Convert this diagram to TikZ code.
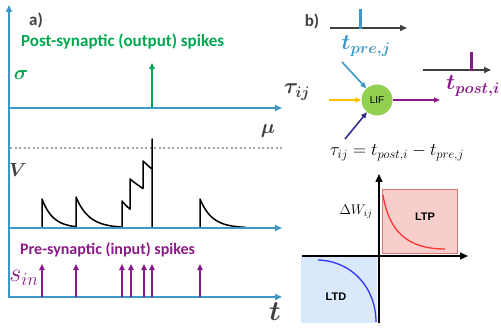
\documentclass[tikz,border=0pt]{standalone}
\usepackage{fix-cm}
\usepackage{amsmath,bm}
\usepackage{fontspec}
\setmainfont{Carlito}
\newfontfamily\arialf{Liberation Sans}
\usetikzlibrary{arrows.meta}
\definecolor{axblue}{RGB}{62,152,199}
\definecolor{sgreen}{RGB}{0,166,80}
\definecolor{spurple}{RGB}{139,26,137}
\definecolor{dgray}{RGB}{64,64,64}
\definecolor{sorange}{RGB}{255,192,0}
\definecolor{snavy}{RGB}{47,48,140}
\definecolor{lifgreen}{RGB}{146,208,80}
\definecolor{ltpfill}{RGB}{248,206,204}
\definecolor{ltpstroke}{RGB}{214,120,116}
\definecolor{ltdfill}{RGB}{218,232,252}
\definecolor{ltpcurve}{RGB}{255,51,51}
\definecolor{ltdcurve}{RGB}{51,51,255}
\tikzset{
  axl/.style={draw=axblue, line width=2pt, -{Triangle[length=7pt,width=6pt]}},
  spk/.style={line width=2pt, -{Triangle[length=6pt,width=5.5pt]}},
  gax/.style={draw=dgray, line width=1.5pt, -{Triangle[length=7pt,width=6pt]}},
  bax/.style={draw=black, line width=1.5pt, -{Triangle[length=8pt,width=7pt]}},
  inarr/.style={line width=1.6pt, -{Triangle[length=6pt,width=5pt]}},
  vcurve/.style={draw=black, line width=1.5pt, line join=round},
  lbl/.style={inner sep=0pt},
}
\newcommand{\fs}[1]{\fontsize{#1}{#1}\selectfont}
\begin{document}
\begin{tikzpicture}[x=1pt,y=-1pt]
\useasboundingbox (0,0) rectangle (501,334);
% ---------------- panel a ----------------
\coordinate (ytop) at (9,5);
\coordinate (ybot) at (9,298);
\coordinate (s0) at (9,108);  \coordinate (s1) at (282,108);
\coordinate (d0) at (10,148); \coordinate (d1) at (282,148);
\coordinate (v0) at (9,228);  \coordinate (v1) at (282,228);
\coordinate (t0) at (9,297);  \coordinate (t1) at (282,297);
\draw[dotted, draw=gray!70, line width=2pt, dash pattern=on 2pt off 2.5pt] (d0) -- (d1);
% membrane potential
\draw[vcurve] (42,228) -- (42,199)
  -- plot[domain=42:76, samples=30, smooth] (\x, {228-29*exp(-(\x-42)/11)})
  -- (76,197)
  -- plot[domain=76:121, samples=30, smooth] (\x, {228-31*exp(-(\x-76)/13)});
\draw[vcurve] (122,228) -- (122,201)
  -- plot[domain=122:130, samples=10, smooth] (\x, {228-27*exp(-(\x-122)/22)})
  -- (130,179)
  -- plot[domain=130:143, samples=12, smooth] (\x, {228-49*exp(-(\x-130)/60)})
  -- (143,161)
  -- plot[domain=143:152, samples=10, smooth] (\x, {228-67*exp(-(\x-143)/70)})
  -- (152,139) -- (152,228) -- (200,228) -- (200,199)
  -- plot[domain=200:246, samples=30, smooth] (\x, {228-29*exp(-(\x-200)/12)});
\draw[axl] (ybot) -- (ytop);
\draw[axl] (s0) -- (s1);
\draw[axl] (v0) -- (v1);
\draw[axl] (t0) -- (t1);
% output spike
\coordinate (g0) at (152,108); \coordinate (g1) at (152,63);
\draw[spk, draw=sgreen, fill=sgreen] (g0) -- (g1);
% input spikes
\foreach \x [count=\i] in {42,76,122,131,144,152,200}{
  \coordinate (pa\i) at (\x,297); \coordinate (pb\i) at (\x,264);
  \draw[spk, draw=spurple, fill=spurple] (pa\i) -- (pb\i);
}
\node[lbl, text=dgray, font=\bfseries\fs{17}] (la) at (36,20) {a)};
\node[lbl, anchor=west, text=sgreen, font=\bfseries\fs{17}] (post) at (21,42) {Post-synaptic (output) spikes};
\node[lbl, text=sgreen] (sig) at (21,75) {\fs{20}$\bm{\sigma}$};
\node[lbl, text=dgray] (mu) at (268,131) {\fs{20}$\bm{\mu}$};
\node[lbl, text=dgray] (vv) at (18,170) {\fs{19}$\bm{V}$};
\node[lbl, anchor=west, text=spurple, font=\bfseries\fs{16}] (pre) at (20,250) {Pre-synaptic (input) spikes};
\node[lbl, text=spurple] (sin) at (24,278) {\fs{26}$s_{in}$};
\node[lbl, text=dgray] (tt) at (275,312) {\fs{28}$\bm{t}$};
% ---------------- panel b ----------------
\node[lbl, text=dgray, font=\bfseries\fs{17}] (lb) at (312,21) {b)};
\coordinate (ta0) at (330,28); \coordinate (ta1) at (407,28);
\draw[gax] (ta0) -- (ta1);
\coordinate (tk0) at (360,29); \coordinate (tk1) at (360,9);
\draw[draw=axblue, line width=3pt] (tk0) -- (tk1);
\node[lbl, text=axblue] (tpre) at (366,46) {\fs{22}$\bm{t_{pre,j}}$};
\coordinate (tb0) at (423,70); \coordinate (tb1) at (491,70);
\draw[gax] (tb0) -- (tb1);
\coordinate (tq0) at (471,71); \coordinate (tq1) at (471,52);
\draw[draw=spurple, line width=3pt] (tq0) -- (tq1);
\node[lbl, text=spurple] (tpost) at (473,86) {\fs{22}$\bm{t_{post,i}}$};
\node[lbl, text=dgray] (tau) at (297,92) {\fs{22}$\bm{\tau_{ij}}$};
\node[circle, fill=lifgreen, minimum size=31pt, inner sep=0pt, font=\arialf\fs{10}] (lif) at (377,100) {LIF};
\coordinate (ib) at (342,62);
\coordinate (io) at (329,100);
\coordinate (in) at (345,139);
\coordinate (op) at (440,100);
\draw[inarr, draw=axblue, fill=axblue] (ib) -- (lif);
\draw[inarr, draw=sorange, fill=sorange] (io) -- (lif);
\draw[inarr, draw=snavy, fill=snavy] (in) -- (lif);
\draw[inarr, draw=spurple, fill=spurple] (lif) -- (op);
\node[lbl] (form) at (397,153) {\fs{18}$\tau_{ij} = t_{post,i} - t_{pre,j}$};
% STDP quadrant
\node[draw=ltpstroke, fill=ltpfill, line width=0.8pt, minimum width=75pt, minimum height=64pt, inner sep=0pt, anchor=north west] (ltpbox) at (382,189) {};
\node[fill=ltdfill, minimum width=76pt, minimum height=66pt, inner sep=0pt, anchor=north west] (ltdbox) at (301,257) {};
\draw[ltpcurve, line width=1.3pt] (383,195) .. controls (389,232) and (408,249) .. (445,249);
\draw[ltdcurve, line width=1.3pt] (318,260) .. controls (352,261) and (376,288) .. (376,322);
\coordinate (qy0) at (379,323); \coordinate (qy1) at (379,174);
\coordinate (qx0) at (302,256); \coordinate (qx1) at (468,256);
\draw[bax] (qy0) -- (qy1);
\draw[bax] (qx0) -- (qx1);
\node[lbl] (dw) at (356,212) {\fs{14}$\Delta W_{ij}$};
\node[lbl, font=\arialf\bfseries\fs{11}] (ltp) at (425,217) {LTP};
\node[lbl, font=\arialf\bfseries\fs{11}] (ltd) at (336,297) {LTD};
\end{tikzpicture}
\end{document}
